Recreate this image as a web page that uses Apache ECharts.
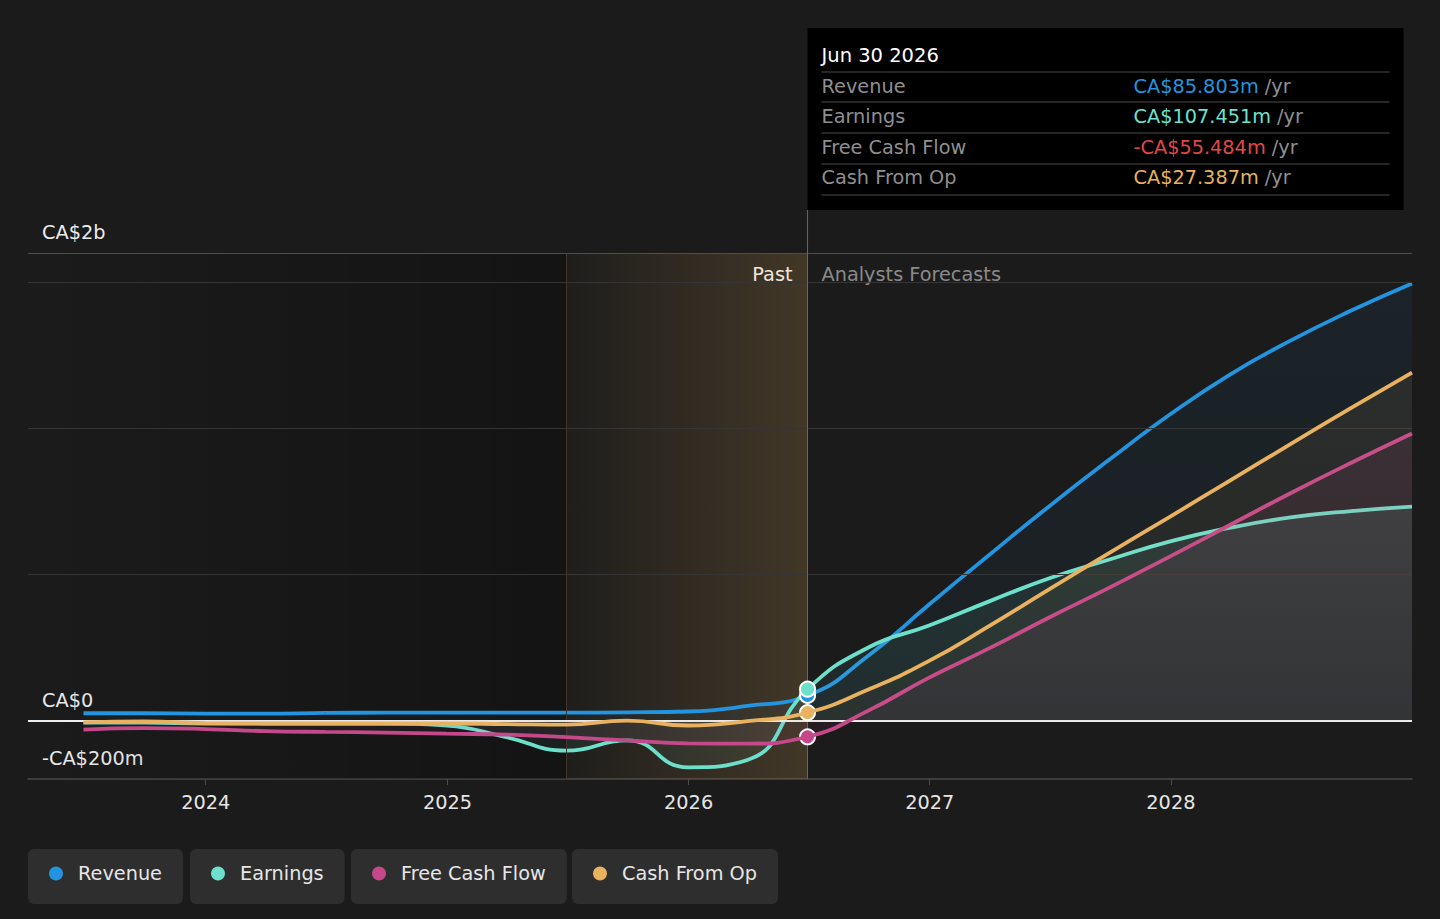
<!DOCTYPE html>
<html><head><meta charset="utf-8">
<script src="https://cdn.jsdelivr.net/npm/echarts@6/dist/echarts.min.js"></script>
<style>html,body{margin:0;padding:0;background:#1b1b1b;overflow:hidden}#c{width:1440px;height:919px}</style>
</head><body><div id="c"></div>
<script>
// ---- data (values in CA$ millions) ----
const dates = ['2023-06-30','2023-09-30','2023-12-31','2024-03-31','2024-06-30','2024-09-30','2024-12-31','2025-03-31','2025-06-30','2025-09-30','2025-12-31','2026-03-31','2026-06-30','2026-09-30','2026-12-31','2027-03-31','2027-06-30','2027-09-30','2027-12-31','2028-03-31','2028-06-30','2028-09-30','2028-12-31'];
const revenue = [25,25,24,24,26,27,27,27,27,28,31,50,85.803,222,397,565,732,893,1048,1185,1300,1403,1496];
const earnings = [-7,-7,-10,-10,-10,-10,-17,-57,-103,-68,-160,-135,107.451,250,325,407,486,551,613,660,695,717,732];
const freeCashFlow = [-31,-26,-29,-36,-39,-41,-45,-48,-57,-68,-78,-79,-55.484,34,147,246,352,455,562,670,778,882,982];
const cashFromOp = [-6,-3,-9,-10,-10,-10,-10,-12,-14,0,-17,-2,27.387,106,204,322,448,574,698,822,946,1070,1191];
const seriesNames = ['Revenue','Earnings','Free Cash Flow','Cash From Op'];
const yTickLabels = {'-200':'-CA$200m','0':'CA$0','1600':'CA$2b'};
const gridValues = [500,1000,1500];
const xMin = '2023-04-07', xMax = '2028-12-31';
const pastStart = '2025-06-30', pastEnd = '2026-06-30';
const tipIndex = 12;
const tipTitle = 'Jun 30 2026';

const colors = ['#2394df','#6de0cc','#c5488a','#e8b260'];
const valueColors = ['#2394df','#6de0cc','#e04848','#e8b260'];
const areaAlpha = [0.10,0.15,0.15,0.11];
const FONT = 'DejaVu Sans';
const FS = 19.3;
const YEAR = 365*86400000;

function rgba(hex,a){const n=parseInt(hex.slice(1),16);return `rgba(${n>>16},${(n>>8)&255},${n&255},${a})`;}
function fmt(v){return (v<0?'-':'')+'CA$'+Math.abs(v).toFixed(3)+'m';}

const allData = [revenue, earnings, freeCashFlow, cashFromOp];
const chart = echarts.init(document.getElementById('c'), null, {renderer:'svg'});

const series = allData.map((arr,i)=>{
  const s = {
    name: seriesNames[i], type:'line', smooth:0.5, showSymbol:false, symbol:'circle',
    data: dates.map((d,k)=>[d,arr[k]]),
    lineStyle:{color:colors[i], width:3.8},
    itemStyle:{color:colors[i]},
    areaStyle:{color:{type:'linear',x:0,y:0,x2:0,y2:1,colorStops:[{offset:0,color:rgba(colors[i],areaAlpha[i])},{offset:1,color:rgba(colors[i],areaAlpha[i]*0.55)}]}},
    z: 3+i, silent:true,
    markPoint:{symbol:'circle', symbolSize:15, label:{show:false}, silent:true,
      itemStyle:{color:colors[i], borderColor:'#ffffff', borderWidth:2},
      data:[{coord:[dates[tipIndex], arr[tipIndex]]}]}
  };
  if(i===0){
    s.markArea = {silent:true, data:[
      [{xAxis:xMin, itemStyle:{color:{type:'linear',x:0,y:0,x2:1,y2:0,colorStops:[{offset:0,color:'rgba(0,0,0,0)'},{offset:1,color:'rgba(0,0,0,0.28)'}]}}},{xAxis:pastStart}],
      [{xAxis:pastStart, itemStyle:{color:{type:'linear',x:0,y:0,x2:1,y2:0,colorStops:[{offset:0,color:'rgba(233,177,91,0.02)'},{offset:1,color:'rgba(233,177,91,0.19)'}]}}},{xAxis:pastEnd}]
    ]};
    s.markLine = {silent:true, symbol:['none','none'], label:{show:false}, animation:false,
      data:[
        ...gridValues.map(v=>({yAxis:v, lineStyle:{color:'#353535', width:1, type:'solid'}})),
        {yAxis:1600, lineStyle:{color:'#4e4e4e', width:1, type:'solid'}},
        {xAxis:pastStart, lineStyle:{color:'#3f382b', width:1, type:'solid'}},
        {xAxis:pastEnd, lineStyle:{color:'#7a6440', width:1, type:'solid'}},
        {yAxis:0, lineStyle:{color:'#eeeeee', width:2, type:'solid'}}
      ]};
  }
  return s;
});

const legendLefts = [28,190,351,572];
const legends = seriesNames.map((n,i)=>({
  data:[n], left:legendLefts[i], top:849, icon:'circle', itemWidth:14, itemHeight:14, itemGap:0,
  selectedMode:false, backgroundColor:'#2e2e2e', borderRadius:6, padding:[15,21,21,21],
  textStyle:{color:'#e6e6e6', fontSize:FS, fontFamily:FONT, lineHeight:19, padding:[0,0,0,10]}
}));

chart.setOption({
  animation:false,
  backgroundColor:'#1b1b1b',
  textStyle:{fontFamily:FONT},
  grid:{left:28, right:28, top:253, bottom:140, containLabel:false},
  xAxis:{type:'time', min:xMin, max:xMax, minInterval:YEAR, maxInterval:YEAR*1.01,
    axisLine:{show:true, onZero:false, lineStyle:{color:'#4a4a4a', width:1.5}},
    axisTick:{show:true, length:6, lineStyle:{color:'#4a4a4a'}},
    splitLine:{show:false},
    axisLabel:{color:'#e6e6e6', fontSize:FS, fontFamily:FONT, margin:14,
      formatter:(val)=>{const d=new Date(val);return (d.getMonth()===0&&d.getDate()===1)?String(d.getFullYear()):'';}}
  },
  yAxis:{type:'value', min:-200, max:1600, interval:100,
    axisLine:{show:false}, axisTick:{show:false}, splitLine:{show:false},
    axisLabel:{inside:true, margin:14, color:'#ececec', fontSize:FS, fontFamily:FONT,
      verticalAlign:'bottom', padding:[0,0,11,0],
      formatter:(v)=> yTickLabels[String(v)] || ''}
  },
  legend: legends,
  series: series
});

// overlay texts and tooltip box positioned via the chart's own scales
const bx = chart.convertToPixel({xAxisIndex:0}, pastEnd);
const topY = chart.convertToPixel({yAxisIndex:0}, 1600);
const boxTop = 28, boxH = 182, boxW = 596;
const rowYs = [86,116,147,177];
const sepYs = [72,102,133,164,195];
const g = [
  {type:'line', silent:true, shape:{x1:bx,y1:boxTop+boxH,x2:bx,y2:topY}, style:{stroke:'#7a6440', lineWidth:1}},
  {type:'text', silent:true, x:bx-15, y:topY+21, style:{text:'Past', fill:'#f0f0f0', fontSize:FS, fontFamily:FONT, align:'right', verticalAlign:'middle'}},
  {type:'text', silent:true, x:bx+14, y:topY+21, style:{text:'Analysts Forecasts', fill:'#8a8a8a', fontSize:FS, fontFamily:FONT, align:'left', verticalAlign:'middle'}},
  {type:'rect', silent:true, shape:{x:bx, y:boxTop, width:boxW, height:boxH}, style:{fill:'#000000'}},
  {type:'text', silent:true, x:bx+14, y:55, style:{text:tipTitle, fill:'#ffffff', fontSize:19.5, fontFamily:FONT, align:'left', verticalAlign:'middle'}}
];
sepYs.forEach(y=>g.push({type:'line', silent:true, shape:{x1:bx+14,y1:y,x2:bx+582,y2:y}, style:{stroke:'#4a4a4a', lineWidth:1}}));
seriesNames.forEach((n,i)=>{
  g.push({type:'text', silent:true, x:bx+14, y:rowYs[i], style:{text:n, fill:'#8f8f8f', fontSize:FS, fontFamily:FONT, align:'left', verticalAlign:'middle'}});
  g.push({type:'text', silent:true, x:bx+326, y:rowYs[i], style:{text:'{v|'+fmt(allData[i][tipIndex])+'} {u|/yr}', fontSize:FS, fontFamily:FONT, align:'left', verticalAlign:'middle',
    rich:{v:{fill:valueColors[i], fontSize:FS, fontFamily:FONT}, u:{fill:'#8f8f8f', fontSize:FS, fontFamily:FONT}}}});
});
chart.setOption({graphic:g});
</script></body></html>
